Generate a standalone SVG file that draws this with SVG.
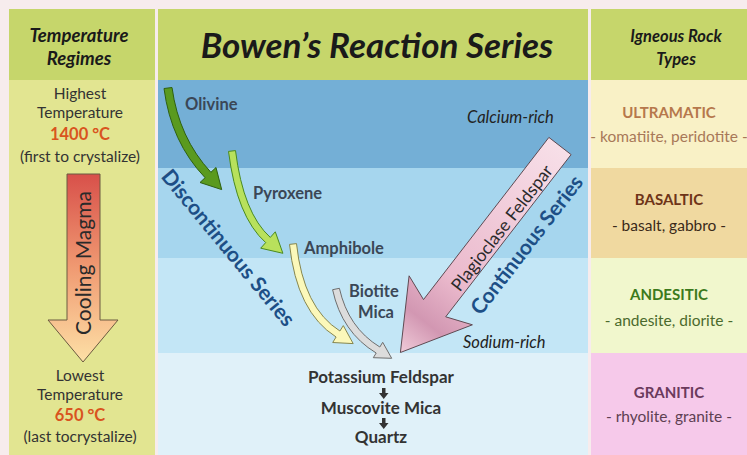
<svg xmlns="http://www.w3.org/2000/svg" width="747" height="455" viewBox="0 0 747 455">
<defs>
<style>
text{font-family:Lato,"Open Sans","Liberation Sans",sans-serif;}
.hd{font-style:italic;font-weight:700;fill:#1a1a1a;text-anchor:middle;}
.lt{font-size:15.5px;fill:#333;text-anchor:middle;}
.tmp{font-size:16.5px;font-weight:700;fill:#d9541e;text-anchor:middle;}
.mn{font-size:16.5px;font-weight:700;fill:#3b4756;}
.it{font-size:16.5px;font-style:italic;fill:#222;}
.ser{font-size:21px;font-weight:700;fill:#1d4f86;text-anchor:middle;}
.rk{font-size:15px;font-weight:700;text-anchor:middle;}
.rs{font-size:15.5px;text-anchor:middle;}
.fin{font-size:17px;font-weight:700;fill:#333;text-anchor:middle;}
.arr{stroke-width:1;stroke-linejoin:round;}
</style>
<linearGradient id="cool" x1="0" y1="174" x2="0" y2="362" gradientUnits="userSpaceOnUse">
<stop offset="0" stop-color="#d8504a"/>
<stop offset="0.5" stop-color="#f09a72"/>
<stop offset="1" stop-color="#fde0a6"/>
</linearGradient>
<linearGradient id="plag" x1="560" y1="146" x2="400" y2="352" gradientUnits="userSpaceOnUse">
<stop offset="0" stop-color="#f7dfe8"/>
<stop offset="0.65" stop-color="#ebbacd"/>
<stop offset="0.85" stop-color="#d297b2"/>
<stop offset="1" stop-color="#f0cbd9"/>
</linearGradient>
</defs>

<rect x="0" y="0" width="747" height="455" fill="#f7eced"/>
<!-- headers -->
<rect x="9" y="9" width="146" height="71" fill="#c6d66b"/>
<rect x="158" y="9" width="430" height="71" fill="#c6d66b"/>
<rect x="591" y="9" width="156" height="71" fill="#c6d66b"/>
<!-- left column -->
<rect x="9" y="80" width="146" height="375" fill="#e2e591"/>
<!-- middle bands -->
<rect x="158" y="80" width="430" height="88" fill="#74afd6"/>
<rect x="158" y="168" width="430" height="90" fill="#a6d6ee"/>
<rect x="158" y="258" width="430" height="95" fill="#c3e6f6"/>
<rect x="158" y="353" width="430" height="102" fill="#e0f1f9"/>
<!-- right bands -->
<rect x="591" y="80" width="156" height="88" fill="#f9f1c6"/>
<rect x="591" y="168" width="156" height="90" fill="#f0d9a0"/>
<rect x="591" y="258" width="156" height="95" fill="#f1f7cd"/>
<rect x="591" y="353" width="156" height="102" fill="#f6c9ea"/>

<g id="header-temp">
<text class="hd" x="79" y="42" font-size="18.5">Temperature</text>
<text class="hd" x="79" y="65" font-size="18.5">Regimes</text>
</g>
<g id="header-title">
<text class="hd" x="377" y="58" font-size="35">Bowen’s Reaction Series</text>
</g>
<g id="header-rock">
<text class="hd" x="676" y="42" font-size="16.5">Igneous Rock</text>
<text class="hd" x="676" y="65" font-size="16.5">Types</text>
</g>

<g id="highest">
<text class="lt" x="80" y="99">Highest</text>
<text class="lt" x="80" y="118">Temperature</text>
<text class="tmp" x="80" y="140">1400 °C</text>
<text class="lt" x="80" y="162">(first to crystalize)</text>
</g>
<g id="cooling-magma">
<polygon points="67,174 100,174 100,320 118,320 83,362 48,320 67,320" fill="url(#cool)" stroke="#6b5a40" stroke-width="1"/>
<text x="91" y="263" transform="rotate(-90 91 263)" font-size="21" fill="#2a2a2a" text-anchor="middle">Cooling Magma</text>
</g>
<g id="lowest">
<text class="lt" x="80" y="381">Lowest</text>
<text class="lt" x="80" y="400">Temperature</text>
<text class="tmp" x="80" y="421">650 °C</text>
<text class="lt" x="80" y="442">(last tocrystalize)</text>
</g>

<g id="connectors">
<path class="arr" fill="#5a9a1f" stroke="#2e6010" d="M164,88.5 Q171,142 205.1,177.7 L200,182.5 L221.7,189.6 L216,167.5 L210.9,172.3 Q179,138 172,87.5 Z"/>
<path class="arr" fill="#b8e15c" stroke="#4a8a20" d="M228.5,151.4 Q236.7,216.8 265.7,242.6 L260.7,248.2 L282.9,253.3 L275.3,231.8 L270.3,237.4 Q243.3,213.2 235.5,150.6 Z"/>
<path class="arr" fill="#fbf8ba" stroke="#86864e" d="M289.5,244.4 Q296.7,312.1 336.1,337 L332.7,342.5 L353.2,343.6 L343.3,325.6 L339.9,331 Q303.3,307.9 296.5,243.6 Z"/>
<path class="arr" fill="#dcdcdc" stroke="#6e6e6e" d="M332.6,289.7 Q341.8,332.3 376.2,353 L373.3,357.7 L391.7,358.3 L382.7,342.3 L379.8,347 Q348.2,327.7 339.4,288.3 Z"/>
<polygon class="arr" fill="url(#plag)" stroke="#5e4a52" stroke-width="0.9" points="548.9,137.4 571.1,154.6 445.7,316.8 472.4,324.8 400.4,352.5 409.1,275.8 423.5,299.6"/>
<path fill="#333" d="M382,388 h3.5 v5 h3 l-4.75,6 l-4.75,-6 h3 Z"/>
<path fill="#333" d="M382,418 h3.5 v5 h3 l-4.75,6 l-4.75,-6 h3 Z"/>
</g>

<g id="olivine"><text class="mn" x="185" y="110">Olivine</text></g>
<g id="pyroxene"><text class="mn" x="253" y="199">Pyroxene</text></g>
<g id="amphibole"><text class="mn" x="304" y="254">Amphibole</text></g>
<g id="biotite-mica">
<text class="mn" x="349" y="297">Biotite</text>
<text class="mn" x="358" y="318">Mica</text>
</g>
<g id="calcium-rich"><text class="it" x="467" y="123">Calcium-rich</text></g>
<g id="sodium-rich"><text class="it" x="463" y="348">Sodium-rich</text></g>
<g id="plagioclase"><text x="502" y="234" transform="rotate(-52.3 502 228)" font-size="17.5" fill="#2a2a2a" text-anchor="middle">Plagioclase Feldspar</text></g>
<g id="continuous-series"><text class="ser" x="527" y="252" transform="rotate(-52.3 527 245)">Continuous Series</text></g>
<g id="discontinuous-series"><text class="ser" x="228" y="255" transform="rotate(50.4 228 248)">Discontinuous Series</text></g>

<g id="potassium-feldspar"><text class="fin" x="381" y="383">Potassium Feldspar</text></g>
<g id="muscovite-mica"><text class="fin" x="381" y="414">Muscovite Mica</text></g>
<g id="quartz"><text class="fin" x="381" y="443">Quartz</text></g>

<g id="ultramatic">
<text class="rk" x="669" y="118" fill="#b6784c">ULTRAMATIC</text>
<text class="rs" x="669" y="142" fill="#a87858">- komatiite, peridotite -</text>
</g>
<g id="basaltic">
<text class="rk" x="669" y="205" fill="#6e3418">BASALTIC</text>
<text class="rs" x="669" y="231" fill="#3a2a1a">- basalt, gabbro -</text>
</g>
<g id="andesitic">
<text class="rk" x="669" y="300" fill="#3c7a1c">ANDESITIC</text>
<text class="rs" x="669" y="326" fill="#4b6a2c">- andesite, diorite -</text>
</g>
<g id="granitic">
<text class="rk" x="669" y="398" fill="#6a3a5c">GRANITIC</text>
<text class="rs" x="669" y="422" fill="#5e4052">- rhyolite, granite -</text>
</g>
</svg>
